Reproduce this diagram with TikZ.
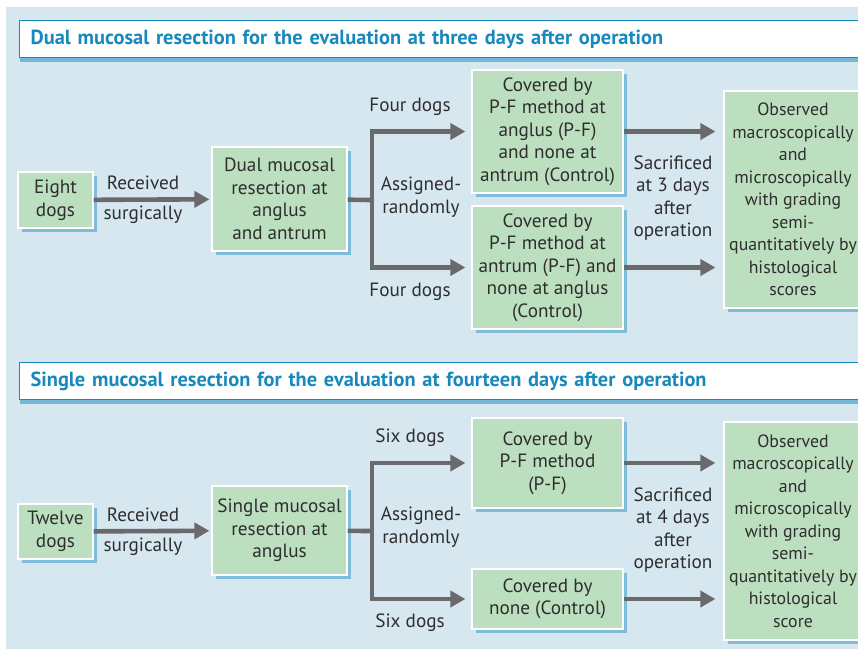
\documentclass[tikz,border=0pt]{standalone}
\usepackage{fontspec}
\setmainfont{PT Sans}
\usepackage{xcolor}
\usetikzlibrary{arrows.meta, positioning, shadows}

\definecolor{panelbg}{HTML}{D6E7F0}
\definecolor{boxgreen}{HTML}{BCDFBF}
\definecolor{arrowgray}{HTML}{6A6A6C}
\definecolor{titleblue}{HTML}{1889BC}
\definecolor{shadowblue}{HTML}{5AAAD2}
\definecolor{textdark}{HTML}{2E2E2E}

\begin{document}
\begin{tikzpicture}[x=0.5pt, y=-0.5pt,
  every node/.style={text=textdark, font=\fontsize{9.6pt}{11.25pt}\selectfont},
  stagebox/.style={draw=white, line width=0.6pt, fill=boxgreen, align=center,
                   inner sep=1pt, minimum width=75.5pt,
                   drop shadow={shadow xshift=2pt, shadow yshift=-2pt,
                                fill=shadowblue, opacity=0.7}},
  obsbox/.style={stagebox, minimum width=69pt,
                 font=\fontsize{8.9pt}{11.25pt}\selectfont},
  titlebox/.style={draw=titleblue, line width=0.6pt, fill=white, anchor=north west,
                   minimum height=18.5pt, text width=420pt, inner xsep=5.5pt,
                   align=left, text=titleblue,
                   font=\fontsize{10.2pt}{12pt}\selectfont\bfseries,
                   drop shadow={shadow xshift=0pt, shadow yshift=-2pt,
                                fill=shadowblue, opacity=0.8}},
  lbl/.style={align=center, inner sep=0pt},
  line/.style={draw=arrowgray, line width=2.3pt},
  arr/.style={line, -{Triangle[length=7.5pt, width=8pt]}}
]
\clip (0,0) rectangle (858,649);
\fill[white] (0,0) rectangle (858,649);
\fill[panelbg] (6,7) rectangle (858,649);

% Panel 1: three days
\node[titlebox] (t1) at (19,20) {Dual mucosal resection for the evaluation at three days after operation};

\node[stagebox, minimum width=37.5pt, minimum height=28pt] (eight) at (55.5,200) {Eight\\dogs};
\node[stagebox, minimum width=67.5pt, minimum height=52pt] (dual) at (279.5,199) {Dual mucosal\\resection at\\anglus\\and antrum};
\node[stagebox, minimum height=61.5pt] (pfa) at (547.5,131.5) {Covered by\\P-F method at\\anglus (P-F)\\and none at\\antrum (Control)};
\node[stagebox, minimum height=61.5pt] (pfb) at (547.5,267.5) {Covered by\\P-F method at\\antrum (P-F) and\\none at anglus\\(Control)};
\node[obsbox, minimum height=108.5pt] (obs1) at (793,199.5) {Observed\\macroscopically\\and\\microscopically\\with grading\\semi-\\quantitatively by\\histological\\scores};

\coordinate (split1) at (372,200);
\draw[arr, shorten >=1pt] (eight) -- (dual);
\draw[line] (dual) -- (split1);
\draw[arr, shorten >=3pt] (split1) |- (pfa);
\draw[arr, shorten >=3pt] (split1) |- (pfb);
\draw[arr, shorten >=4pt] (pfa.east) -- (pfa.east -| obs1.west);
\draw[arr, shorten >=4pt] (pfb.east) -- (pfb.east -| obs1.west);

\node[lbl] (rec1) at (143,183) {Received};
\node[lbl] (sur1) at (143,215) {surgically};
\node[lbl] (four1) at (410,107) {Four dogs};
\node[lbl] (four2) at (410,292) {Four dogs};
\node[lbl] (asg1) at (421,197) {Assigned-\\randomly};
\node[lbl] (sac1) at (673,198) {Sacrificed\\at 3 days\\after\\operation};

% Panel 2: fourteen days
\node[titlebox] (t2) at (19,362) {Single mucosal resection for the evaluation at fourteen days after operation};

\node[stagebox, minimum width=37.5pt, minimum height=27.5pt] (twelve) at (55.5,531.5) {Twelve\\dogs};
\node[stagebox, minimum width=67.5pt, minimum height=44.5pt] (single) at (279.5,530.5) {Single mucosal\\resection at\\anglus};
\node[stagebox, minimum height=45pt] (pfc) at (547.5,463) {Covered by\\P-F method\\(P-F)};
\node[stagebox, minimum height=30pt] (ctrl) at (547.5,599) {Covered by\\none (Control)};
\node[obsbox, minimum height=109pt] (obs2) at (793,531) {Observed\\macroscopically\\and\\microscopically\\with grading\\semi-\\quantitatively by\\histological\\score};

\coordinate (split2) at (372,531);
\draw[arr, shorten >=1pt] (twelve) -- (single);
\draw[line] (single) -- (split2);
\draw[arr, shorten >=3pt] (split2) |- (pfc);
\draw[arr, shorten >=3pt] (split2) |- (ctrl);
\draw[arr, shorten >=4pt] (pfc.east) -- (pfc.east -| obs2.west);
\draw[arr, shorten >=4pt] (ctrl.east) -- (ctrl.east -| obs2.west);

\node[lbl] (rec2) at (143,515) {Received};
\node[lbl] (sur2) at (143,547) {surgically};
\node[lbl] (six1) at (410,438) {Six dogs};
\node[lbl] (six2) at (410,623) {Six dogs};
\node[lbl] (asg2) at (421,527) {Assigned-\\randomly};
\node[lbl] (sac2) at (673,530) {Sacrificed\\at 4 days\\after\\operation};
\end{tikzpicture}
\end{document}
